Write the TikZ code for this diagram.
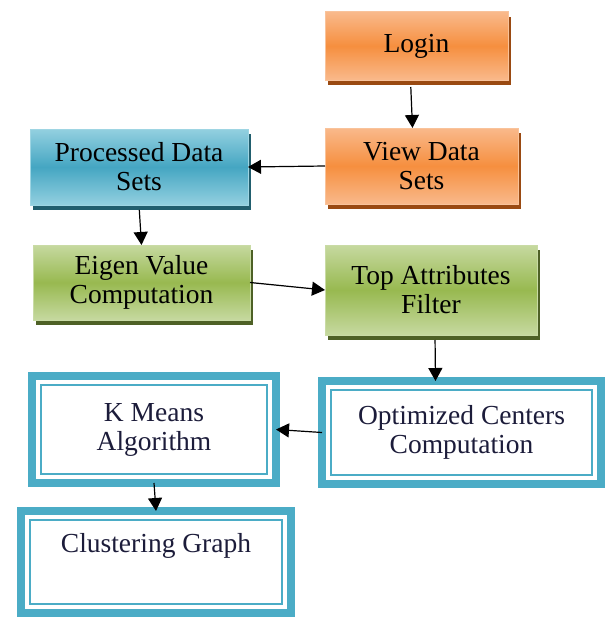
\documentclass[tikz,border=0pt]{standalone}
\usepackage{fontspec}
\setmainfont{Liberation Serif}
\usetikzlibrary{arrows.meta,shadows}

\definecolor{orgtop}{HTML}{F9B98B}
\definecolor{orgmid}{HTML}{F68F3F}
\definecolor{orgline}{HTML}{F9C39B}
\definecolor{orgdark}{HTML}{9A4A12}
\definecolor{aqtop}{HTML}{93D0E0}
\definecolor{aqmid}{HTML}{45A6C2}
\definecolor{aqline}{HTML}{9ED5E3}
\definecolor{aqdark}{HTML}{215E6E}
\definecolor{grtop}{HTML}{C6D9A0}
\definecolor{grmid}{HTML}{98B950}
\definecolor{grline}{HTML}{C9DBA5}
\definecolor{grdark}{HTML}{4E6126}
\definecolor{band}{HTML}{4BACC6}
\definecolor{navy}{HTML}{1C1C3A}

\begin{document}
\begin{tikzpicture}[x=1pt,y=-1pt,
  every node/.style={font=\fontsize{27.5}{29}\selectfont,align=center,inner sep=0pt,outer sep=0pt},
  flow/.style={-{Triangle[length=13pt,width=14pt]},line width=1.2pt},
  orangebox/.style={draw=orgline,line width=1pt,top color=orgtop,bottom color=orgtop,middle color=orgmid,
    drop shadow={shadow xshift=3pt,shadow yshift=-5pt,fill=orgdark,opacity=1}},
  aquabox/.style={draw=aqline,line width=1pt,top color=aqtop,bottom color=aqtop,middle color=aqmid,
    drop shadow={shadow xshift=3pt,shadow yshift=-5pt,fill=aqdark,opacity=1}},
  greenbox/.style={draw=grline,line width=1pt,top color=grtop,bottom color=grtop,middle color=grmid,
    drop shadow={shadow xshift=3pt,shadow yshift=-5pt,fill=grdark,opacity=1}},
  framebox/.style={draw=band,line width=8pt,fill=white,text=navy},
  innerline/.style={draw=band,line width=1.8pt}]
  \useasboundingbox (0,0) rectangle (606,618);

  % shaded boxes
  \node[orangebox,minimum width=183pt,minimum height=68pt] (login) at (416.5,46) {Login};
  \node[orangebox,minimum width=193pt,minimum height=76pt] (view) at (421.5,166) {View Data\\Sets};
  \node[aquabox,minimum width=218pt,minimum height=76pt] (proc) at (139,167) {Processed Data\\Sets};
  \node[greenbox,minimum width=217pt,minimum height=75pt] (eigen) at (141.5,282.5) {Eigen Value\\Computation};
  \node[greenbox,minimum width=212pt,minimum height=90pt] (attr) at (431,290) {Top Attributes\\Filter};

  % framed boxes
  \node[framebox,minimum width=279pt,minimum height=103pt] (opt) at (461.5,432.5) {Optimized Centers\\Computation};
  \node[framebox,minimum width=244pt,minimum height=107pt] (kmeans) at (154,429.5) {K Means\\Algorithm};
  \node[framebox,minimum width=270pt,minimum height=102pt] (clust) at (156,562) {Clustering Graph\\ \strut};
  \foreach \n in {opt,kmeans,clust}
    \draw[innerline] ([xshift=9pt,yshift=-9pt]\n.north west) rectangle ([xshift=-9pt,yshift=9pt]\n.south east);

  % connectors
  \draw[flow,shorten <=7pt] ([xshift=-6pt]login.south) -- ([xshift=-9pt]view.north);
  \draw[flow] (view.west) -- (proc.east);
  \draw[flow,shorten <=5pt] (proc.south) -- (eigen.north);
  \draw[flow] (eigen.east) -- (attr.west);
  \draw[flow,shorten <=5pt] ([xshift=4pt]attr.south) -- ([xshift=-26pt]opt.north);
  \draw[flow] (opt.west) -- (kmeans.east);
  \draw[flow] (kmeans.south) -- (clust.north);
\end{tikzpicture}
\end{document}
